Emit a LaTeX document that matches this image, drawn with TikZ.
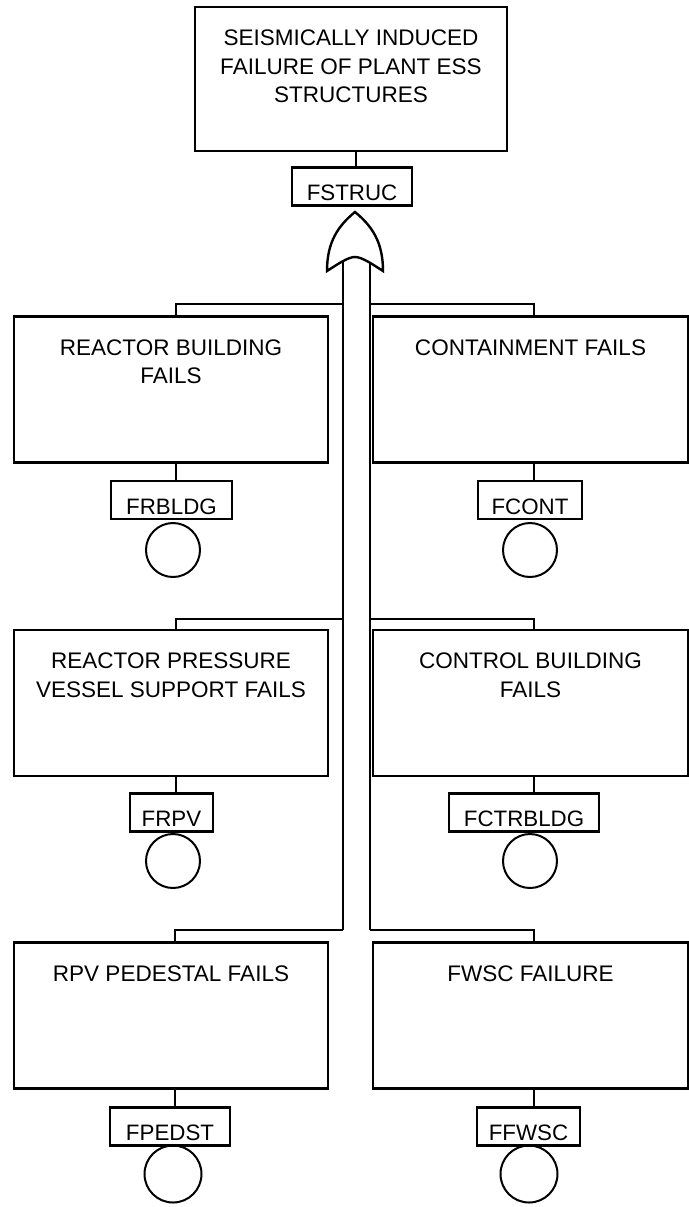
\documentclass[tikz,border=0pt]{standalone}
\usepackage{fontspec}
\setmainfont{Liberation Sans}
\begin{document}
\begin{tikzpicture}[x=1bp,y=-1bp,
  line width=2.6bp, line join=miter,
  ebox/.style={draw, rectangle, minimum width=314bp, minimum height=146bp, inner sep=0pt},
  etext/.style={anchor=north, align=center, inner sep=0pt, font=\fontsize{22.6}{28.5}\selectfont},
  lbl/.style={draw, rectangle, minimum height=38bp, inner xsep=0pt, inner ysep=0pt,
    text height=33bp, text depth=5bp, font=\fontsize{22.4}{26}\selectfont},
  evt/.style={draw, circle, minimum size=54bp, inner sep=0pt, line width=2bp},
  conn/.style={line width=2.4bp}]
\useasboundingbox (0,0) rectangle (689,1207);

% top event
\node[ebox, minimum width=312bp, minimum height=144bp] (top) at (351,79) {};
\node[etext] (toptxt) at ([yshift=-23bp]top.north) {SEISMICALLY INDUCED\\FAILURE OF PLANT ESS\\STRUCTURES};
\node[lbl, minimum width=120bp] (fstruc) at (352,186.5) {FSTRUC};
\draw[conn] ([xshift=4bp]fstruc.north) -- ([xshift=4bp]fstruc.north |- top.south);

% bus coordinates
\coordinate (bLtop) at (343,258);
\coordinate (bRtop) at (370,258);
\coordinate (bL1) at (343,304);
\coordinate (bR1) at (370,304);
\coordinate (bL2) at (343,619);
\coordinate (bR2) at (370,619);
\coordinate (bL3) at (343,930);
\coordinate (bR3) at (370,930);
\draw[conn] (bLtop) -- (bL3);
\draw[conn] (bRtop) -- (bR3);

% OR gate
\coordinate (gapex) at (355,212);
\draw[line width=2.4bp, fill=white] (327,271) .. controls (327,242) and (338,226) .. (gapex)
  .. controls (372,226) and (383,242) .. (383,271)
  .. controls (372,264) and (362,257) .. (355,257)
  .. controls (348,257) and (338,264) .. (327,271) -- cycle;

% row 1
\node[ebox] (rb) at (171,389.5) {};
\node[etext] at ([yshift=-23bp]rb.north) {REACTOR BUILDING\\FAILS};
\node[ebox, minimum width=315bp] (ct) at (530.5,389.5) {};
\node[etext] at ([yshift=-23bp]ct.north) {CONTAINMENT FAILS};
\node[lbl, minimum width=121bp] (frbldg) at (171.5,500) {FRBLDG};
\node[lbl, minimum width=104bp] (fcont) at (530,500) {FCONT};
\node[evt] (e1) at (173,550) {};
\node[evt] (e2) at (530,550) {};
\draw[conn] ([xshift=5bp]rb.north) |- (bL1);
\draw[conn] ([xshift=3.5bp]ct.north) |- (bR1);
\draw[conn] ([xshift=5bp]rb.south) -- ([xshift=5bp]rb.south |- frbldg.north);
\draw[conn] ([xshift=3.5bp]ct.south) -- ([xshift=3.5bp]ct.south |- fcont.north);

% row 2
\node[ebox] (rpv) at (171,703) {};
\node[etext] at ([yshift=-23bp]rpv.north) {REACTOR PRESSURE\\VESSEL SUPPORT FAILS};
\node[ebox, minimum width=315bp] (cb) at (530.5,703) {};
\node[etext] at ([yshift=-23bp]cb.north) {CONTROL BUILDING\\FAILS};
\node[lbl, minimum width=83bp] (frpv) at (171.5,812.5) {FRPV};
\node[lbl, minimum width=150bp] (fctr) at (524,812.5) {FCTRBLDG};
\node[evt] (e3) at (173,861) {};
\node[evt] (e4) at (530,861) {};
\draw[conn] ([xshift=5bp]rpv.north) |- (bL2);
\draw[conn] ([xshift=3.5bp]cb.north) |- (bR2);
\draw[conn] ([xshift=5bp]rpv.south) -- ([xshift=5bp]rpv.south |- frpv.north);
\draw[conn] ([xshift=3.5bp]cb.south) -- ([xshift=3.5bp]cb.south |- fctr.north);

% row 3
\node[ebox] (ped) at (171,1015.5) {};
\node[etext] at ([yshift=-23bp]ped.north) {RPV PEDESTAL FAILS};
\node[ebox, minimum width=315bp] (fw) at (530.5,1015.5) {};
\node[etext] at ([yshift=-23bp]fw.north) {FWSC FAILURE};
\node[lbl, minimum width=120bp] (fpedst) at (170,1126.5) {FPEDST};
\node[lbl, minimum width=103bp] (ffwsc) at (528.5,1126.5) {FFWSC};
\node[evt, minimum height=57bp] (e5) at (173,1174) {};
\node[evt, minimum height=57bp] (e6) at (529,1174) {};
\draw[conn] ([xshift=4bp]ped.north) |- (bL3);
\draw[conn] ([xshift=3.5bp]fw.north) |- (bR3);
\draw[conn] ([xshift=4bp]ped.south) -- ([xshift=4bp]ped.south |- fpedst.north);
\draw[conn] ([xshift=3.5bp]fw.south) -- ([xshift=3.5bp]fw.south |- ffwsc.north);
\end{tikzpicture}
\end{document}
